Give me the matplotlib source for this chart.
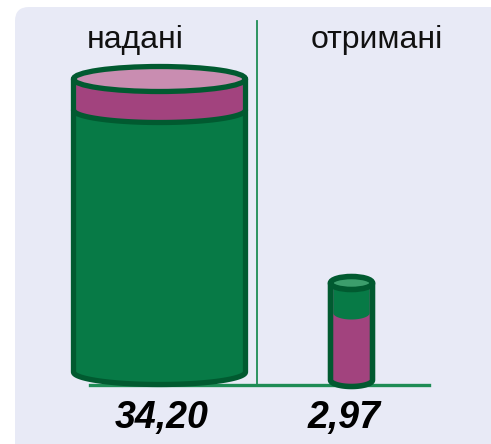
import numpy as np
import matplotlib
matplotlib.use("Agg")
import matplotlib.pyplot as plt
import matplotlib.patches as mpatches

# dados
categorias = ["надані", "отримані"]
valores = [34.20, 2.97]
rotulos = ["34,20", "2,97"]

# cores
BG = "#E8EAF6"
VERDE = "#077A46"
VERDE_ESC = "#015A30"
VERDE_CLARO = "#3C9E6C"
MAGENTA = "#A2437E"
ROSA = "#C98DB1"
LINHA = "#1E8C55"

plt.rcParams["font.family"] = ["Liberation Sans", "DejaVu Sans"]


def arco(cx, cy, a, b, t0, t1, n=60):
    """Pontos de um arco de elipse (y para baixo)."""
    t = np.linspace(t0, t1, n)
    return np.column_stack([cx + a * np.cos(t), cy + b * np.sin(t)])


def corpo(ax, cx, a, b, y_top, y_bot, fc, lw, z):
    """Corpo do cilindro: laterais + meia elipse inferior."""
    pts = np.vstack([
        [[cx - a, y_top]],
        arco(cx, y_bot, a, b, np.pi, 0),
        [[cx + a, y_top]],
    ])
    ax.add_patch(mpatches.Polygon(pts, closed=True, fc=fc, ec=VERDE_ESC,
                                  lw=lw, joinstyle="round", zorder=z))


def faixa(ax, cx, a, b, y_top, y_bot, fc, lw, z, contorno=True):
    """Faixa superior entre a tampa e uma elipse intermediaria."""
    off = lw / 0.72 / 2
    pts = np.vstack([
        [[cx - a + off, y_top]],
        arco(cx, y_bot, a - off, b, np.pi, 0),
        [[cx + a - off, y_top]],
    ])
    ax.add_patch(mpatches.Polygon(pts, closed=True, fc=fc, ec="none", zorder=z))
    if contorno:
        linha = arco(cx, y_bot, a, b, np.pi, 0)
        ax.plot(linha[:, 0], linha[:, 1], color=VERDE_ESC, lw=lw, zorder=z + 0.1,
                solid_capstyle="round")


fig = plt.figure(figsize=(4.91, 4.44), dpi=100)
ax = fig.add_axes([0, 0, 1, 1])
ax.set_xlim(0, 491)
ax.set_ylim(444, 0)
ax.axis("off")

# fundo arredondado
ax.add_patch(mpatches.FancyBboxPatch((15, 7), 500, 460,
                                     boxstyle="round,pad=0,rounding_size=14",
                                     fc=BG, ec="none", zorder=0))

# separador e linha de base
ax.plot([257, 257], [21, 385], color=LINHA, lw=1.3, zorder=1)
ax.plot([90, 429], [385, 385], color=LINHA, lw=2.4, zorder=1)

# cilindro grande (надані)
cx, a, b = 159.5, 86, 12.5
corpo(ax, cx, a, b, 79, 372, VERDE, 3.8, 2)
faixa(ax, cx, a, b, 79, 110, MAGENTA, 3.8, 3)
ax.add_patch(mpatches.Ellipse((cx, 79), 2 * a, 2 * b, fc=ROSA, ec=VERDE_ESC,
                              lw=3.8, zorder=4))

# cilindro pequeno (отримані)
cx, a, b = 351.5, 21, 6.5
corpo(ax, cx, a, b, 283, 380, MAGENTA, 4.0, 2)
faixa(ax, cx, a, b, 283, 313, VERDE, 4.0, 3, contorno=False)
ax.add_patch(mpatches.Ellipse((cx, 283), 2 * a, 2 * b, fc=VERDE_CLARO, ec=VERDE_ESC,
                              lw=4.0, zorder=4))

# textos
pos_cat = [135, 377]
for x, nome in zip(pos_cat, categorias):
    ax.text(x, 40, nome, ha="center", va="center", fontsize=23, color="#111111", zorder=5)

pos_val = [162, 344]
for x, v, r in zip(pos_val, valores, rotulos):
    ax.text(x, 418, r, ha="center", va="center", fontsize=27, fontweight="bold",
            fontstyle="italic", color="black", zorder=5)

fig.savefig("out.png", dpi=100, facecolor="white")
